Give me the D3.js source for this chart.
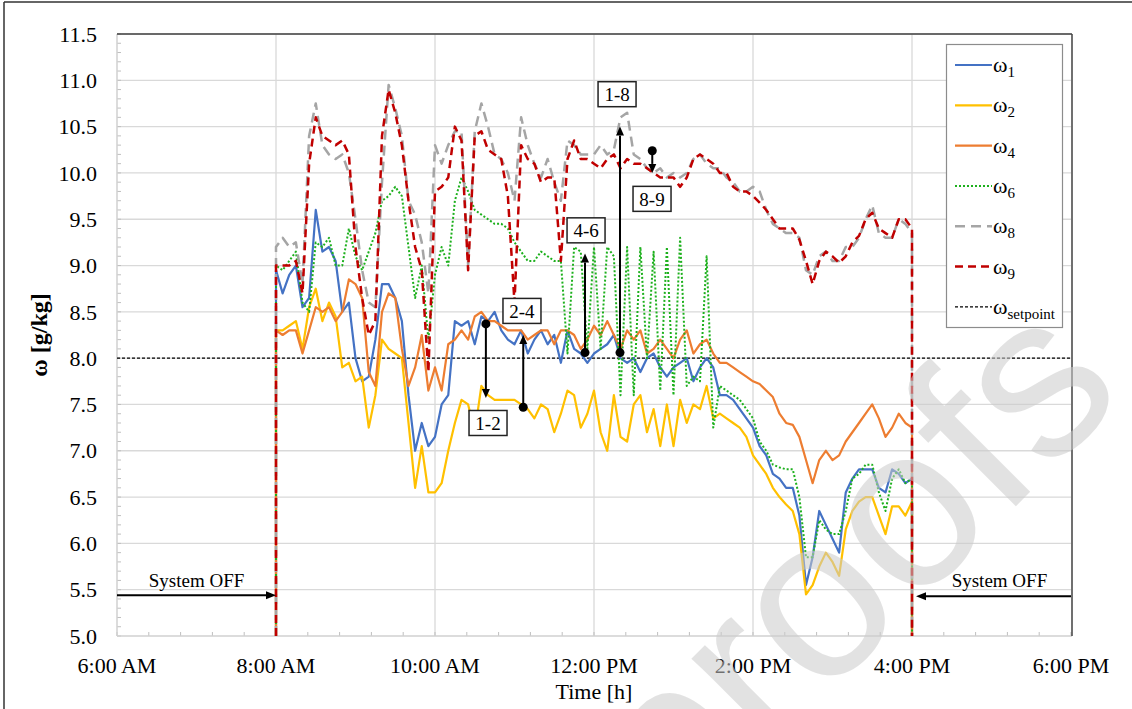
<!DOCTYPE html>
<html>
<head>
<meta charset="utf-8">
<script src="https://cdn.jsdelivr.net/npm/d3@7"></script>
<style>
  body { margin: 0; background: #fff; }
  svg { display: block; }
  text { font-family: "Liberation Serif", "Times New Roman", serif; fill: #000; }
</style>
</head>
<body>
<div id="chart"></div>
<script>
// Readings every 5 minutes, 8:00 to 16:00 (system OFF outside that window)
var startHour = 8, stepMin = 5;

var w1 = [8.95, 8.7, 8.9, 9.0, 8.55, 8.65, 9.6, 9.15, 9.2, 9.05, 8.5, 8.6, 8.0, 7.75, 7.8, 8.2, 8.8, 8.8, 8.65, 8.4, 7.6, 7.0, 7.3, 7.05, 7.15,
  7.5, 7.6, 8.4, 8.35, 8.4, 8.15, 8.45, 8.4, 8.5, 8.3, 8.2, 8.15, 8.3, 8.05, 8.2, 8.3, 8.15, 8.25, 7.95, 8.3, 8.1, 8.05, 7.95, 8.05,
  8.1, 8.15, 8.25, 8.0, 7.95, 8.0, 7.85, 8.0, 8.05, 7.9, 7.8, 7.9, 7.95, 8.0, 7.75, 7.9, 8.0, 7.9, 7.6, 7.6, 7.55, 7.45, 7.35, 7.25,
  7.05, 6.95, 6.75, 6.7, 6.6, 6.6, 6.3, 5.55, 5.85, 6.35, 6.2, 6.05, 5.9, 6.55, 6.7, 6.8, 6.8, 6.8, 6.6, 6.55, 6.8, 6.75, 6.65, 6.7];

var w2 = [8.3, 8.3, 8.35, 8.4, 8.1, 8.55, 8.75, 8.4, 8.6, 8.45, 7.9, 7.95, 7.75, 7.8, 7.25, 7.6, 8.2, 8.1, 8.05, 8.0, 7.3, 6.6, 7.05, 6.55, 6.55,
  6.65, 7.0, 7.3, 7.55, 7.5, 7.2, 7.7, 7.6, 7.55, 7.55, 7.55, 7.55, 7.5, 7.45, 7.35, 7.5, 7.45, 7.2, 7.4, 7.65, 7.6, 7.25, 7.4, 7.65,
  7.2, 7.0, 7.6, 7.15, 7.1, 7.5, 7.6, 7.2, 7.45, 7.05, 7.5, 7.05, 7.55, 7.3, 7.5, 7.45, 7.7, 7.35, 7.4, 7.35, 7.3, 7.25, 7.15, 6.95,
  6.85, 6.75, 6.6, 6.5, 6.42, 6.35, 6.1, 5.45, 5.55, 5.75, 5.9, 5.8, 5.65, 6.15, 6.35, 6.45, 6.5, 6.5, 6.3, 6.1, 6.4, 6.4, 6.3, 6.45];

var w4 = [8.3, 8.25, 8.3, 8.3, 8.05, 8.3, 8.55, 8.5, 8.55, 8.4, 8.5, 8.85, 8.8, 8.65, 7.85, 7.7, 8.5, 8.7, 8.65, 8.1, 7.7, 7.9, 8.25, 7.65, 7.9,
  7.65, 8.15, 8.2, 8.3, 8.2, 8.45, 8.5, 8.4, 8.4, 8.35, 8.3, 8.3, 8.3, 8.2, 8.25, 8.3, 8.3, 8.15, 8.3, 8.3, 8.25, 8.1, 8.2, 8.35,
  8.25, 8.4, 8.25, 8.1, 8.3, 8.2, 8.3, 8.05, 8.1, 8.2, 8.1, 8.0, 8.2, 8.3, 8.05, 8.15, 8.2, 8.05, 7.95, 7.95, 7.9, 7.85, 7.8, 7.75,
  7.72, 7.65, 7.58, 7.4, 7.3, 7.28, 7.15, 6.9, 6.65, 6.9, 7.0, 6.9, 6.95, 7.1, 7.2, 7.3, 7.4, 7.5, 7.35, 7.15, 7.25, 7.4, 7.3, 7.25];

var w6 = [9.0, 8.95, 9.05, 9.15, 8.6, 8.5, 9.25, 9.2, 9.3, 9.0, 9.0, 9.4, 9.1, 8.95, 9.15, 9.35, 9.7, 9.75, 9.85, 9.75, 9.2, 8.65, 9.0, 8.2, 8.9,
  9.2, 9.0, 9.7, 9.95, 9.8, 9.6, 9.55, 9.5, 9.45, 9.45, 9.4, 9.25, 9.15, 9.05, 9.05, 9.15, 9.1, 9.05, 9.05, 8.05, 9.2, 9.15, 8.1, 9.2,
  8.1, 9.2, 9.1, 7.6, 9.2, 7.6, 9.2, 8.0, 9.15, 7.65, 9.2, 7.6, 9.3, 7.7, 7.8, 7.75, 9.1, 7.25, 7.7, 7.65, 7.6, 7.55, 7.45, 7.35,
  7.1, 7.0, 6.85, 6.82, 6.8, 6.8, 6.5, 5.85, 5.85, 6.25, 6.15, 6.1, 6.1, 6.35, 6.7, 6.75, 6.85, 6.85, 6.55, 6.35, 6.7, 6.8, 6.65, 6.7];

var w8 = [9.2, 9.3, 9.2, 9.25, 8.8, 10.4, 10.75, 10.3, 10.2, 10.15, 10.2, 10.0, 9.5, 8.95, 8.6, 8.55, 9.9, 10.95, 10.7, 10.4, 9.7, 9.55, 9.25, 8.7, 10.3,
  10.1, 10.3, 10.45, 10.45, 9.0, 10.45, 10.75, 10.5, 10.2, 10.15, 10.0, 9.7, 10.6, 10.3, 10.1, 9.95, 10.15, 9.9, 9.7, 10.35, 10.3, 10.2, 10.2, 10.2,
  10.3, 10.2, 10.25, 10.6, 10.65, 10.2, 10.15, 10.05, 10.0, 10.05, 9.95, 10.0, 9.95, 10.0, 10.15, 10.2, 10.1, 10.05, 10.05, 9.95, 9.9, 9.8, 9.8, 9.85,
  9.8, 9.6, 9.45, 9.4, 9.35, 9.35, 9.3, 8.95, 8.9, 9.1, 9.15, 9.05, 9.05, 9.2, 9.2, 9.3, 9.5, 9.65, 9.35, 9.3, 9.3, 9.5, 9.45, 9.35];

var w9 = [9.0, 9.0, 9.0, 9.05, 8.7, 10.1, 10.6, 10.4, 10.35, 10.3, 10.35, 10.2, 9.2, 8.65, 8.25, 8.4, 10.4, 10.9, 10.65, 10.3, 9.7, 9.2, 8.95, 7.85, 9.8,
  9.85, 9.95, 10.5, 10.35, 8.95, 10.4, 10.45, 10.25, 10.2, 10.15, 9.75, 8.6, 10.3, 10.15, 10.1, 9.9, 9.95, 9.95, 9.05, 10.15, 10.35, 10.15, 10.15, 10.1,
  10.05, 10.15, 10.2, 10.05, 10.15, 10.1, 10.1, 10.05, 10.0, 9.95, 9.95, 9.95, 9.85, 9.95, 10.15, 10.2, 10.15, 10.1, 10.0, 10.0, 9.85, 9.8, 9.8, 9.75,
  9.68, 9.6, 9.5, 9.4, 9.4, 9.4, 9.28, 9.05, 8.8, 9.05, 9.15, 9.1, 9.03, 9.1, 9.25, 9.32, 9.5, 9.57, 9.4, 9.35, 9.3, 9.5, 9.5, 9.4];

var setpoint = 8.0;

var xTickHours = [6, 8, 10, 12, 14, 16, 18];
var xTickLabels = ["6:00 AM", "8:00 AM", "10:00 AM", "12:00 PM", "2:00 PM", "4:00 PM", "6:00 PM"];
var yTicks = [5.0, 5.5, 6.0, 6.5, 7.0, 7.5, 8.0, 8.5, 9.0, 9.5, 10.0, 10.5, 11.0, 11.5];

// difference annotations: label, hour, from value (dot), to value (arrow tip), label position
var annLabels = ["1-2", "2-4", "4-6", "1-8", "8-9"];
var annHour = [10.64, 11.11, 11.887, 12.327, 12.733];
var annFrom = [8.37, 7.47, 8.06, 8.06, 10.24];
var annTo = [7.57, 8.25, 9.13, 10.5, 10.0];
var annLabelHour = [10.667, 11.094, 11.90, 12.29, 12.73];
var annLabelVal = [7.30, 8.51, 9.38, 10.85, 9.72];

var width = 1132, height = 709;
var margin = { left: 117, right: 1071, top: 34, bottom: 636 };

var svg = d3.select("#chart").append("svg")
  .attr("width", width)
  .attr("height", height);

var x = d3.scaleLinear().domain([6, 18]).range([margin.left, margin.right]);
var y = d3.scaleLinear().domain([5, 11.5]).range([margin.bottom, margin.top]);

// outer frame of the figure
svg.append("line").attr("x1", 4).attr("x2", width).attr("y1", 2).attr("y2", 2)
  .attr("stroke", "#333").attr("stroke-width", 1.5);
svg.append("line").attr("x1", 4).attr("x2", 4).attr("y1", 2).attr("y2", height)
  .attr("stroke", "#333").attr("stroke-width", 1.5);

// gridlines
svg.append("g").selectAll("line").data(yTicks.slice(1)).enter().append("line")
  .attr("x1", margin.left).attr("x2", margin.right)
  .attr("y1", function(d) { return y(d); }).attr("y2", function(d) { return y(d); })
  .attr("stroke", "#d9d9d9").attr("stroke-width", 1.3);
svg.append("g").selectAll("line").data(xTickHours.slice(1, -1)).enter().append("line")
  .attr("x1", function(d) { return x(d); }).attr("x2", function(d) { return x(d); })
  .attr("y1", margin.top).attr("y2", margin.bottom)
  .attr("stroke", "#d9d9d9").attr("stroke-width", 1.3);

// minor ticks (inside)
var yMinor = d3.range(50, 116).map(function(d) { return d / 10; });
svg.append("g").selectAll("line").data(yMinor).enter().append("line")
  .attr("x1", margin.left).attr("x2", margin.left + 4)
  .attr("y1", function(d) { return y(d); }).attr("y2", function(d) { return y(d); })
  .attr("stroke", "#bfbfbf").attr("stroke-width", 1);
var xMinor = d3.range(0, 31).map(function(d) { return 6 + d * 0.4; });
svg.append("g").selectAll("line").data(xMinor).enter().append("line")
  .attr("x1", function(d) { return x(d); }).attr("x2", function(d) { return x(d); })
  .attr("y1", margin.bottom).attr("y2", margin.bottom - 4)
  .attr("stroke", "#bfbfbf").attr("stroke-width", 1);

// axes lines
svg.append("line").attr("x1", margin.left).attr("x2", margin.left)
  .attr("y1", margin.top).attr("y2", margin.bottom).attr("stroke", "#d0d0d0").attr("stroke-width", 1.5);
svg.append("line").attr("x1", margin.left).attr("x2", margin.right + 1)
  .attr("y1", margin.bottom).attr("y2", margin.bottom).attr("stroke", "#d0d0d0").attr("stroke-width", 1.5);
svg.append("line").attr("x1", margin.left).attr("x2", margin.right + 1)
  .attr("y1", margin.top).attr("y2", margin.top).attr("stroke", "#404040").attr("stroke-width", 1.5);
svg.append("line").attr("x1", margin.right + 1).attr("x2", margin.right + 1)
  .attr("y1", margin.top).attr("y2", margin.bottom).attr("stroke", "#404040").attr("stroke-width", 1.5);

// tick labels
svg.append("g").selectAll("text").data(yTicks).enter().append("text")
  .attr("x", 97).attr("y", function(d) { return y(d); })
  .attr("dy", "0.35em").attr("text-anchor", "end")
  .style("font-size", "22px")
  .text(function(d) { return d.toFixed(1); });
svg.append("g").selectAll("text").data(xTickHours).enter().append("text")
  .attr("x", function(d) { return x(d); }).attr("y", 673)
  .attr("text-anchor", "middle")
  .style("font-size", "22px")
  .text(function(d, i) { return xTickLabels[i]; });

svg.append("text").attr("x", (margin.left + margin.right) / 2).attr("y", 699)
  .attr("text-anchor", "middle").style("font-size", "22px").text("Time [h]");
svg.append("text")
  .attr("transform", "translate(47," + ((margin.top + margin.bottom) / 2) + ") rotate(-90)")
  .attr("text-anchor", "middle").style("font-size", "24px").style("font-weight", "bold")
  .text("ω [g/kg]");

// setpoint line
svg.append("line").attr("x1", margin.left).attr("x2", margin.right)
  .attr("y1", y(setpoint)).attr("y2", y(setpoint))
  .attr("stroke", "#000").attr("stroke-width", 1.2).attr("stroke-dasharray", "3,2");

// series
var series = [
  { name: "1", values: w1, color: "#4472C4", width: 2.2, dash: null },
  { name: "2", values: w2, color: "#FFC000", width: 2.2, dash: null },
  { name: "4", values: w4, color: "#ED7D31", width: 2.2, dash: null },
  { name: "6", values: w6, color: "#1DB01D", width: 2, dash: "2,2" },
  { name: "8", values: w8, color: "#A5A5A5", width: 2.5, dash: "10,6" },
  { name: "9", values: w9, color: "#C00000", width: 2.5, dash: "8,5" }
];

var line = d3.line()
  .x(function(d) { return x(d[0]); })
  .y(function(d) { return y(d[1]); });

series.forEach(function(s) {
  var pts = s.values.map(function(v, i) { return [startHour + i * stepMin / 60, v]; });
  var endHour = pts[pts.length - 1][0];
  // system switches on at 8:00 and off at 16:00
  pts.unshift([startHour, 5]);
  pts.push([endHour, 5]);
  svg.append("path").datum(pts)
    .attr("d", line)
    .attr("fill", "none")
    .attr("stroke", s.color)
    .attr("stroke-width", s.width)
    .attr("stroke-linejoin", "round")
    .attr("stroke-dasharray", s.dash);
});

// arrows
function drawArrow(x1, y1, x2, y2, head) {
  var dx = x2 - x1, dy = y2 - y1, len = Math.sqrt(dx * dx + dy * dy);
  var ux = dx / len, uy = dy / len;
  var bx = x2 - ux * head, by = y2 - uy * head;
  svg.append("line").attr("x1", x1).attr("y1", y1).attr("x2", bx).attr("y2", by)
    .attr("stroke", "#000").attr("stroke-width", 2);
  svg.append("path")
    .attr("d", "M" + x2 + "," + y2 + "L" + (bx - uy * 4) + "," + (by + ux * 4) + "L" + (bx + uy * 4) + "," + (by - ux * 4) + "Z")
    .attr("fill", "#000");
}

annLabels.forEach(function(lab, i) {
  var ax = x(annHour[i]);
  drawArrow(ax, y(annFrom[i]), ax, y(annTo[i]), 9);
  svg.append("circle").attr("cx", ax).attr("cy", y(annFrom[i])).attr("r", 4.5).attr("fill", "#000");
  var cx = x(annLabelHour[i]), cy = y(annLabelVal[i]);
  svg.append("rect").attr("x", cx - 19).attr("y", cy - 12.5).attr("width", 38).attr("height", 25)
    .attr("fill", "#fff").attr("stroke", "#222").attr("stroke-width", 1.5);
  svg.append("text").attr("x", cx).attr("y", cy).attr("dy", "0.35em")
    .attr("text-anchor", "middle").style("font-size", "19px").text(lab);
});

// System OFF markers
drawArrow(x(6), y(5.44), x(8), y(5.44), 10);
svg.append("text").attr("x", x(7)).attr("y", 587).attr("text-anchor", "middle")
  .style("font-size", "19px").text("System OFF");
drawArrow(x(18), y(5.43), x(16.05), y(5.43), 10);
svg.append("text").attr("x", x(17.1)).attr("y", 587).attr("text-anchor", "middle")
  .style("font-size", "19px").text("System OFF");

// legend
var legend = svg.append("g");
legend.append("rect").attr("x", 946.5).attr("y", 44.5).attr("width", 116).attr("height", 283)
  .attr("fill", "#fff").attr("stroke", "#8c8c8c").attr("stroke-width", 1.2);
var legendItems = series.map(function(s) { return { sub: s.name, color: s.color, width: s.width, dash: s.dash }; });
legendItems.push({ sub: "setpoint", color: "#000", width: 1.2, dash: "3,2" });
legendItems.forEach(function(d, i) {
  var ly = 65 + i * 40.3;
  legend.append("line").attr("x1", 955).attr("x2", 992).attr("y1", ly).attr("y2", ly)
    .attr("stroke", d.color).attr("stroke-width", d.width).attr("stroke-dasharray", d.dash);
  var t = legend.append("text").attr("x", 993).attr("y", ly + 7).style("font-size", "22px");
  t.append("tspan").text("ω");
  t.append("tspan").attr("dy", 5).style("font-size", "15px").text(d.sub);
});

// watermark
svg.append("text")
  .attr("transform", "translate(902,620) rotate(-45)")
  .attr("text-anchor", "middle")
  .style("font-family", "'Liberation Sans', Arial, sans-serif")
  .style("font-size", "230px")
  .style("fill", "#cccccc")
  .style("opacity", 0.55)
  .text("proofs");
</script>
</body>
</html>
